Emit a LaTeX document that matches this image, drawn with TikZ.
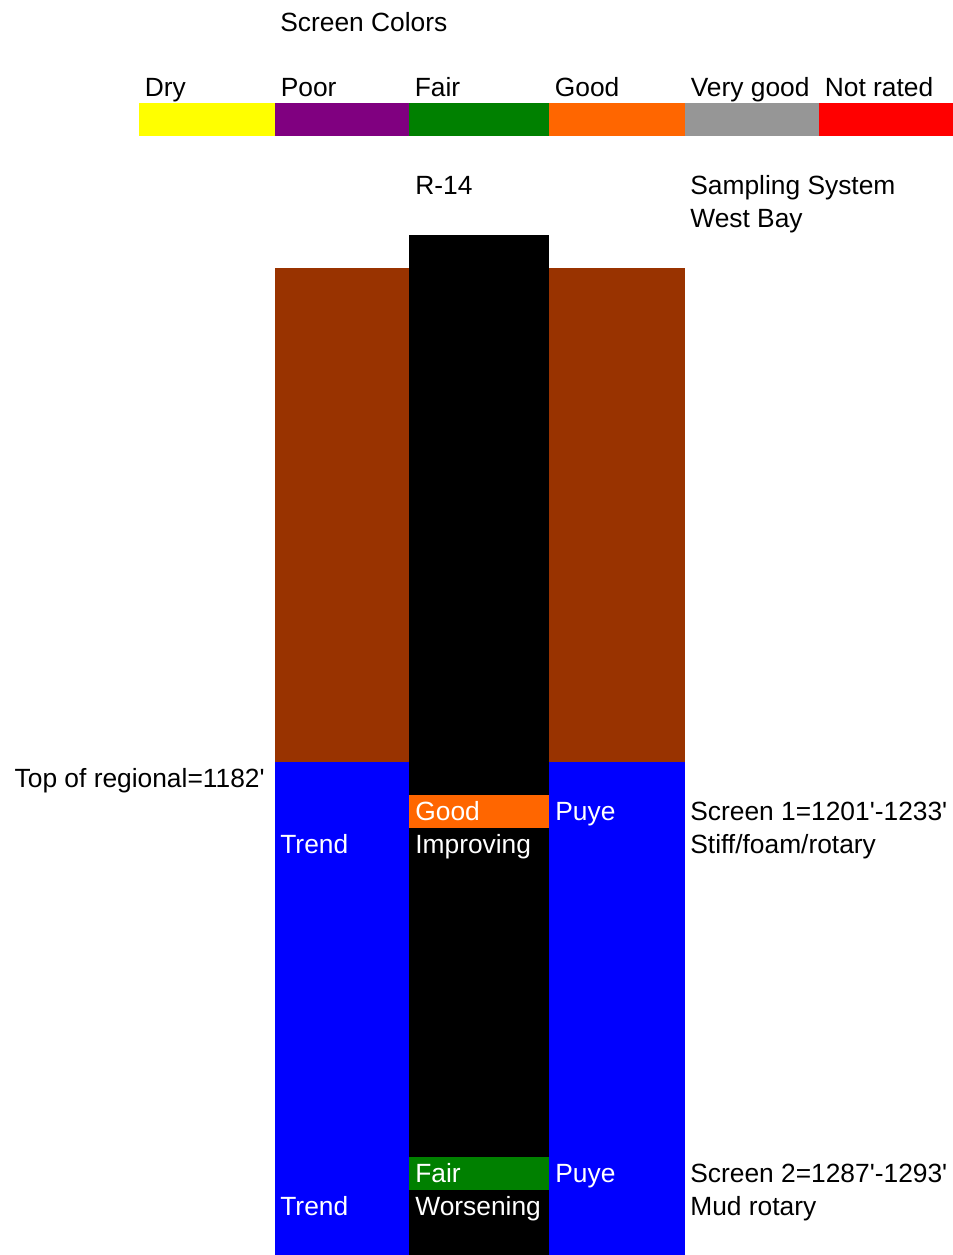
\documentclass[tikz,border=0pt]{standalone}
\usepackage{fontspec}
\setmainfont{Liberation Sans}
\usetikzlibrary{positioning}
\definecolor{dryC}{RGB}{255,255,0}
\definecolor{poorC}{RGB}{128,0,128}
\definecolor{fairC}{RGB}{0,128,0}
\definecolor{goodC}{RGB}{255,102,0}
\definecolor{vgoodC}{RGB}{150,150,150}
\definecolor{nrC}{RGB}{255,0,0}
\definecolor{casingC}{RGB}{153,51,0}
\definecolor{aquiferC}{RGB}{0,0,255}
\newcommand{\ft}{\textquotesingle}
\tikzset{
  lbl/.style={anchor=base west, inner sep=0pt, font=\fontsize{15pt}{18pt}\selectfont},
  wlbl/.style={lbl, text=white},
}
\begin{document}
\begin{tikzpicture}[x=0.02cm, y=-0.02cm]
\useasboundingbox (0,0) rectangle (953,1255);
% legend of screen colours
\node[lbl] (title) at (280,31) {Screen Colors};
\foreach \x/\xe/\c/\t [count=\i] in {139/275/dryC/Dry, 275/409/poorC/Poor, 409/549/fairC/Fair, 549/685/goodC/Good, 685/819/vgoodC/Very good, 819/953/nrC/Not rated} {
  \fill[\c] (\x,103) rectangle (\xe,136);
  \node[lbl] (leg\i) at (\x+5.5,96) {\t};
}
% well header
\node[lbl] (well) at (415,194) {R-14};
\node[lbl] (sys) at (690,194) {Sampling System};
\node[lbl] (bay) at (690,227) {West Bay};
% casing and formation columns
\fill[casingC] (275,268) rectangle (685,762);
\fill[aquiferC] (275,762) rectangle (685,1255);
\fill[black] (409,235) rectangle (549,1255);
% screen intervals
\fill[goodC] (409,795) rectangle (549,828);
\fill[fairC] (409,1157) rectangle (549,1190);
\node[lbl, anchor=base east] (top) at (265,787) {Top of regional=1182\ft};
% screen 1
\node[wlbl] (s1rate) at (415,820) {Good};
\node[wlbl] (s1unit) at (555,820) {Puye};
\node[lbl] (s1) at (690,820) {Screen 1=1201\ft-1233\ft};
\node[wlbl] (s1trend) at (280,853) {Trend};
\node[wlbl] (s1dir) at (415,853) {Improving};
\node[lbl] (s1drill) at (690,853) {Stiff/foam/rotary};
% screen 2
\node[wlbl] (s2rate) at (415,1182) {Fair};
\node[wlbl] (s2unit) at (555,1182) {Puye};
\node[lbl] (s2) at (690,1182) {Screen 2=1287\ft-1293\ft};
\node[wlbl] (s2trend) at (280,1215) {Trend};
\node[wlbl] (s2dir) at (415,1215) {Worsening};
\node[lbl] (s2drill) at (690,1215) {Mud rotary};
\end{tikzpicture}
\end{document}
